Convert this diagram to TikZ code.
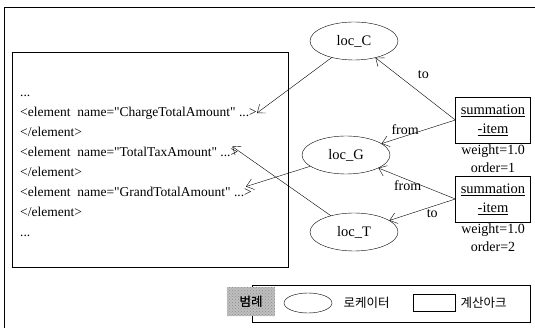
\documentclass[tikz,border=0pt]{standalone}
\usepackage{fontspec}
\setmainfont{Liberation Serif}
\newfontfamily\xmlfont{Liberation Serif}[Ligatures = TeXOff]
\newfontfamily\kor{Noto Sans CJK KR}
\usetikzlibrary{positioning}
\usetikzlibrary{shapes.geometric}
\usetikzlibrary{arrows.meta}
\usetikzlibrary{patterns}
\tikzset{loc/.style = {draw, ellipse, inner sep = 0, minimum width = 88, minimum height = 38,
    font = \fontsize{14.5}{16}\selectfont}}
\tikzset{sumbox/.style = {draw, align = center, inner sep = 1, minimum width = 75, minimum height = 46,
    font = \fontsize{14.5}{19}\selectfont}}
\tikzset{xml/.style = {anchor = west, inner sep = 0, text height = 9.5pt, text depth = 3pt,
    font = \xmlfont\fontsize{13.5}{16}\selectfont}}
\tikzset{lbl/.style = {inner sep = 1, font = \fontsize{14}{18}\selectfont}}
\tikzset{arr/.style = {-{Straight Barb[length = 7pt, width = 11pt]}}}

\begin{document}
\begin{tikzpicture}[x = 1pt, y = -1pt]
      \useasboundingbox (0, 0) rectangle (535, 328);
      \draw (4, 328) -- (4, 7) -- (535, 7);
      % schema text
      \draw (12, 52) rectangle (288, 267);
      \node[xml] (top) at (20, 93) {...};
      \node[xml] (charge) at (20, 113) {<element~~name="ChargeTotalAmount" ...>};
      \node[xml] (end1) at (20, 133) {</element>};
      \node[xml] (tax) at (20, 153) {<element~~name="TotalTaxAmount" ...>};
      \node[xml] (end2) at (20, 173) {</element>};
      \node[xml] (grand) at (20, 193) {<element~~name="GrandTotalAmount" ...>};
      \node[xml] (end3) at (20, 213) {</element>};
      \node[xml] (bottom) at (20, 233) {...};
      % locators
      \node[loc] (locC) at (354, 41) {loc\_C};
      \node[loc] (locG) at (346, 155) {loc\_G};
      \node[loc] (locT) at (354, 232) {loc\_T};
      % calculation arcs
      \node[sumbox] (sum1) at (493, 120) {\underline{summation}\\\underline{-item}};
      \node[lbl, align = center, below = 0 of sum1] (attr1) {weight=1.0\\order=1};
      \node[sumbox] (sum2) at (493, 199) {\underline{summation}\\\underline{-item}};
      \node[lbl, align = center, below = 0 of sum2] (attr2) {weight=1.0\\order=2};
      \draw[arr] (sum1.west) -- node[lbl, pos = 0.5, xshift = 8, yshift = 14] {to} (locC);
      \draw[arr] (sum1.west) -- node[lbl, above, pos = 0.68] {from} (locG);
      \draw[arr] (sum2.west) -- node[lbl, below, pos = 0.62] {from} (locG);
      \draw[arr] (sum2.west) -- node[lbl, below right, pos = 0.45] {to} (locT);
      \draw[arr] (locC) -- (charge.east);
      \draw[arr] (locG) -- ([xshift = -6]grand.north east);
      \draw[arr] (locT) -- ([xshift = -6]tax.north east);
      % legend
      \draw (252, 285) rectangle (530, 322);
      \node[fill = black!25, minimum width = 48, minimum height = 29,
        font = \kor\fontsize{12.5}{12}\selectfont] (tag) at (251, 302) {범례};
      \fill[pattern = crosshatch dots, pattern color = black!45] (tag.south west) rectangle (tag.north east);
      \node[font = \kor\fontsize{12.5}{12}\selectfont] at (tag) {범례};
      \node[draw, ellipse, minimum width = 48, minimum height = 20] (keyloc) at (308, 303) {};
      \node[right = 8 of keyloc, font = \kor\fontsize{12.5}{14}\selectfont] (keyloctxt) {로케이터};
      \node[draw, minimum width = 42, minimum height = 17] (keyarc) at (434, 303) {};
      \node[right = 2 of keyarc, font = \kor\fontsize{12.5}{14}\selectfont] (keyarctxt) {계산아크};
    \end{tikzpicture}
\end{document}
